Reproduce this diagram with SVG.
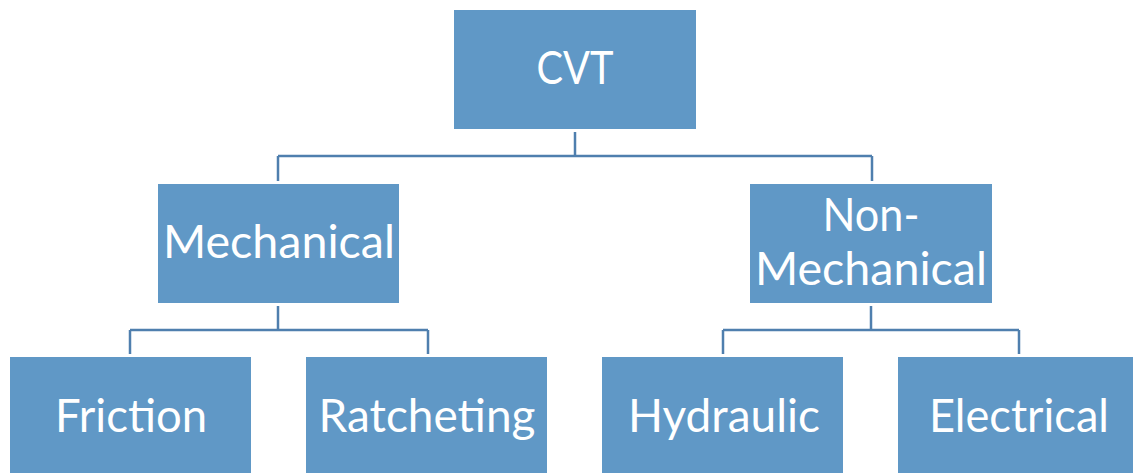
<svg xmlns="http://www.w3.org/2000/svg" width="1133" height="473" viewBox="0 0 1133 473">
<style>
.box{fill:#6098c6;}
.lbl{font-family:Lato,"Liberation Sans",sans-serif;font-size:46px;fill:#ffffff;text-anchor:middle;}
.con{fill:none;stroke:#4f7fae;stroke-width:2.5;}
</style>
<rect width="1133" height="473" fill="#ffffff"/>
<g id="connectors">
<path class="con" d="M575,132 V156 M278,156 H872 M278,156 V181 M872,156 V181"/>
<path class="con" d="M278,306 V330 M130,330 H428 M130,330 V354 M428,330 V354"/>
<path class="con" d="M871,306 V330 M723,330 H1019 M723,330 V354 M1019,330 V354"/>
</g>
<g id="cvt"><rect class="box" x="454" y="10" width="242" height="119"/><text class="lbl" x="575" y="84" textLength="77" lengthAdjust="spacingAndGlyphs">CVT</text></g>
<g id="mechanical"><rect class="box" x="158" y="184" width="241" height="119"/><text class="lbl" x="279" y="258" textLength="232" lengthAdjust="spacingAndGlyphs">Mechanical</text></g>
<g id="non-mechanical"><rect class="box" x="750" y="184" width="242" height="119"/><text class="lbl" x="871" y="231" textLength="97" lengthAdjust="spacingAndGlyphs">Non-</text><text class="lbl" x="871" y="285" textLength="232" lengthAdjust="spacingAndGlyphs">Mechanical</text></g>
<g id="friction"><rect class="box" x="10" y="357" width="241" height="120"/><text class="lbl" x="131" y="432" textLength="152" lengthAdjust="spacingAndGlyphs">Friction</text></g>
<g id="ratcheting"><rect class="box" x="306" y="357" width="241" height="120"/><text class="lbl" x="427" y="432" textLength="217" lengthAdjust="spacingAndGlyphs">Ratcheting</text></g>
<g id="hydraulic"><rect class="box" x="602" y="357" width="241" height="120"/><text class="lbl" x="724" y="432" textLength="192" lengthAdjust="spacingAndGlyphs">Hydraulic</text></g>
<g id="electrical"><rect class="box" x="898" y="357" width="241" height="120"/><text class="lbl" x="1019" y="432" textLength="180" lengthAdjust="spacingAndGlyphs">Electrical</text></g>
</svg>
